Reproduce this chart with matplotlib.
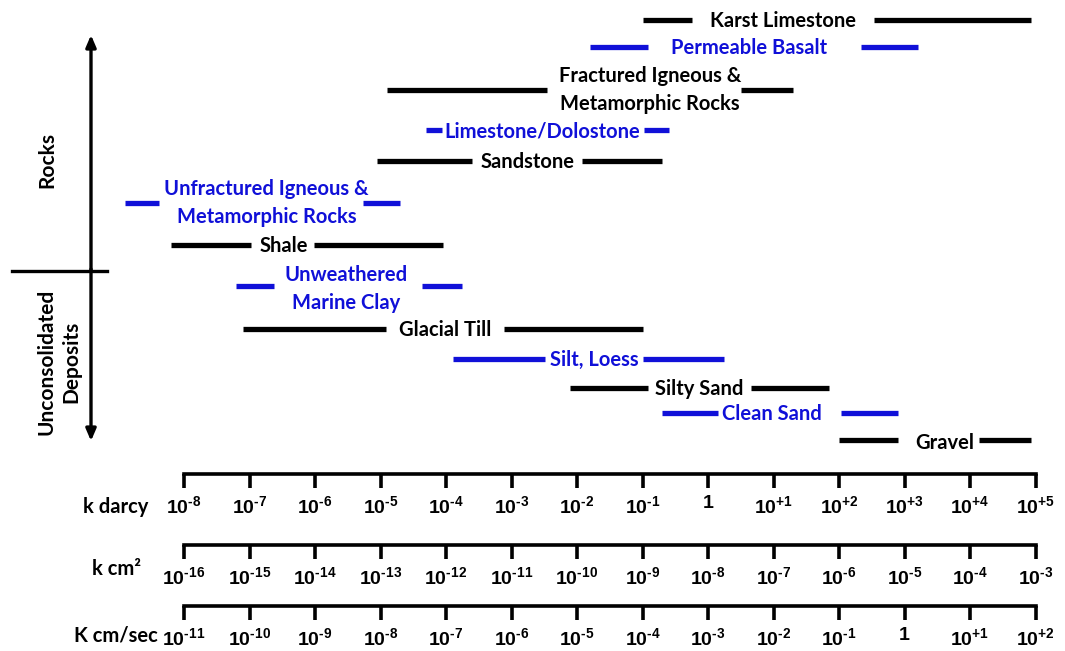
#!/usr/bin/env python3
"""Permeability ranges of rocks and unconsolidated deposits, with
k darcy / k cm2 / K cm/sec scales underneath."""
import matplotlib.pyplot as plt
from matplotlib.ticker import NullLocator

plt.rcParams['font.family'] = ['Lato', 'DejaVu Sans']
plt.rcParams['font.weight'] = 'bold'
plt.rcParams['mathtext.fontset'] = 'custom'
plt.rcParams['mathtext.rm'] = 'Liberation Sans:bold'
plt.rcParams['mathtext.bf'] = 'Liberation Sans:bold'
plt.rcParams['mathtext.default'] = 'bf'

BLACK = "#000000"
BLUE = "#1010d8"

# --- data: ranges as log10(k in darcy) ---------------------------------
names = ["Karst Limestone", "Permeable Basalt",
         "Fractured Igneous &\nMetamorphic Rocks", "Limestone/Dolostone",
         "Sandstone", "Unfractured Igneous &\nMetamorphic Rocks", "Shale",
         "Unweathered\nMarine Clay", "Glacial Till", "Silt, Loess",
         "Silty Sand", "Clean Sand", "Gravel"]
log_lo = [-1.0, -1.8, -4.9, -4.3, -5.05, -8.9, -8.2, -7.2, -7.1, -3.9, -2.1, -0.7, 2.0]
log_hi = [4.93, 3.2, 1.3, -0.6, -0.7, -4.7, -4.05, -3.75, -1.0, 0.25, 1.85, 2.9, 4.93]

darcy_exp = list(range(-8, 6))      # 10^-8 .. 10^+5 darcy
cm2_offset = -8                     # k cm2   = k darcy * ~1e-8
kcms_offset = -3                    # K cm/s ~= k darcy * 1e-3

# --- layout (figure pixels, y from top) --------------------------------
W, H = 1065, 651
X0, DEC = 184, 65.5                 # pixel of 10^-8 darcy, pixels per decade
row_y = [20, 47, 90, 130, 161, 203, 245, 286, 329, 359, 388, 413, 440]
text_dy = [0, 0, -1, 0, 0, -1, 0, 2, 0, 0, 0, 0, 2]
# gap around each label, in log10 darcy, and label centre
gap_lo = [-0.24, -0.91, -2.46, -4.06, -3.60, -8.38, -6.97, -6.62, -4.91, -2.49, -0.92, 0.15, 2.90]
gap_hi = [2.54, 2.34, 0.50, -0.97, -1.92, -5.26, -6.01, -4.37, -3.11, -1.00, 0.65, 2.03, 4.13]
text_x = [1.14, 0.62, -0.89, -2.53, -2.76, -6.74, -6.48, -5.53, -4.02, -1.74, -0.13, 0.97, 3.62]
colors = [BLACK, BLUE] * 6 + [BLACK]

xmin = darcy_exp[0] - X0 / DEC
xmax = darcy_exp[0] + (W - X0) / DEC

fig = plt.figure(figsize=(W / 100, H / 100), dpi=100)

# bars, on a log10 darcy axis
ax = fig.add_axes([0, 0, 1, 1])
ax.set_xscale("log")
ax.set_xlim(10 ** xmin, 10 ** xmax)
ax.set_ylim(H, 0)
ax.axis("off")

for i, name in enumerate(names):
    y = row_y[i]
    c = colors[i]
    ax.hlines(y, 10 ** log_lo[i], 10 ** gap_lo[i], color=c, lw=3.8)
    ax.hlines(y, 10 ** gap_hi[i], 10 ** log_hi[i], color=c, lw=3.8)
    ax.text(10 ** text_x[i], y + 1 + text_dy[i], name, color=c,
            fontsize=14.5, fontweight="bold", ha="center", va="center",
            linespacing=1.5)

# decorations in pixel coordinates
lay = fig.add_axes([0, 0, 1, 1], facecolor="none")
lay.set_xlim(0, W)
lay.set_ylim(H, 0)
lay.axis("off")

arrow = dict(arrowstyle="-|>,head_length=0.7,head_width=0.3", color="black",
             lw=2.4, shrinkA=0, shrinkB=0)
lay.annotate("", xy=(91, 35), xytext=(91, 271), arrowprops=arrow)
lay.annotate("", xy=(91, 441), xytext=(91, 269), arrowprops=arrow)
lay.plot([12, 107], [271, 271], color="black", lw=2.4)
lay.text(47, 160, "Rocks", rotation=90, fontsize=15, fontweight="bold",
         ha="center", va="center")
lay.text(59, 362, "Unconsolidated\nDeposits", rotation=90, fontsize=15,
         fontweight="bold", ha="center", va="center", linespacing=1.35)


# the three scales
def exp_label(e):
    if e == 0:
        return "1"
    sign = "+" if e > 0 else "\u2010"
    return "10$^{%s%d}$" % (sign, abs(e))


scales = [("k darcy", 0, 474, 507),
          ("k cm²", cm2_offset, 545, 569),
          ("K cm/sec", kcms_offset, 606, 636)]
for title, off, line_y, title_y in scales:
    sax = fig.add_axes([0, 1 - line_y / H, 1, 0.0001], facecolor="none")
    sax.set_xscale("log")
    sax.set_xlim(10 ** (xmin + off), 10 ** (xmax + off))
    for s in ("top", "left", "right"):
        sax.spines[s].set_visible(False)
    sax.spines["bottom"].set_linewidth(2.6)
    sax.spines["bottom"].set_bounds(10 ** (darcy_exp[0] + off),
                                    10 ** (darcy_exp[-1] + off))
    sax.set_yticks([])
    sax.set_xticks([10.0 ** (e + off) for e in darcy_exp],
                   labels=[exp_label(e + off) for e in darcy_exp],
                   fontsize=14, fontfamily="Liberation Sans",
                   fontweight="bold")
    sax.xaxis.set_minor_locator(NullLocator())
    sax.tick_params(axis="x", direction="out", length=10, width=2.6, pad=5)
    lay.text(116, title_y, title, fontsize=14.5, fontweight="bold",
             ha="center", va="center")

fig.savefig("out.png", dpi=100)
